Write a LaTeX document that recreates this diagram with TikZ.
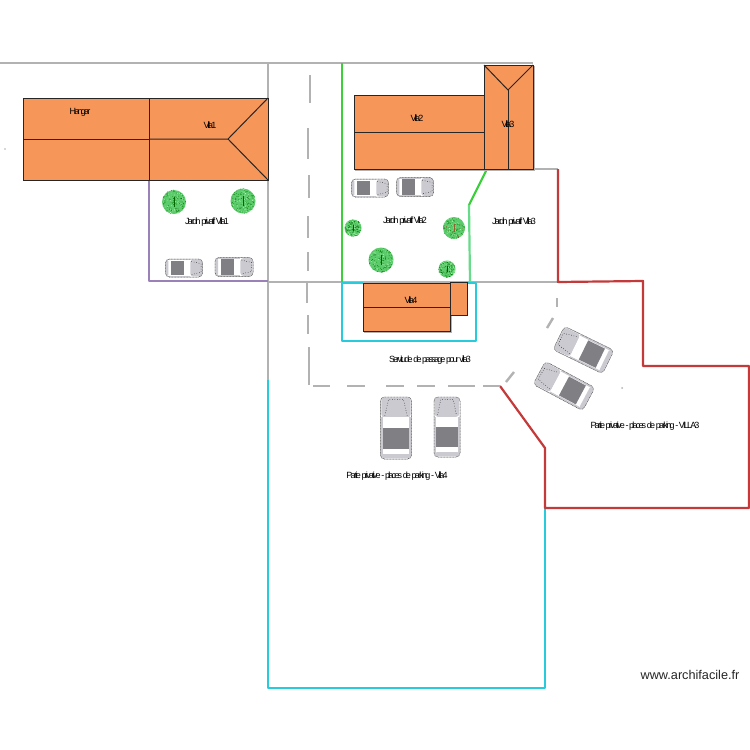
\documentclass[tikz,border=0pt]{standalone}
\usepackage{fontspec}
\setmainfont{Liberation Sans}
\newfontfamily\labfont[LetterSpace=-20]{Liberation Sans}
\definecolor{roof}{HTML}{F79659}
\definecolor{wallgray}{HTML}{B2B2B2}
\definecolor{gardenpurple}{HTML}{9A82B8}
\definecolor{gardengreen}{HTML}{3BCF3B}
\definecolor{softgreen}{HTML}{66DB8A}
\definecolor{parkcyan}{HTML}{28CBDC}
\definecolor{parkred}{HTML}{C43A3A}
\definecolor{carlight}{HTML}{CACAD0}
\definecolor{cardark}{HTML}{808084}
\definecolor{treegreen}{HTML}{5CCB6C}
\tikzset{
  wall/.style={draw=wallgray,line width=2.4pt},
  zone/.style={line width=2.2pt,line join=round},
  bldg/.style={fill=roof,draw=black!85,line width=1pt},
  ridge/.style={draw=black!85,line width=1pt},
  lab/.style={font=\labfont\fontsize{9}{11}\selectfont,inner sep=0pt,text=black},
  dashline/.style={draw=wallgray,line width=2.4pt}
}
% x, y, rotation, width, length
\newcommand{\carpic}[5]{%
  \begin{scope}[shift={(#1,#2)},rotate=#3,xscale=#4,yscale=#5]
    \draw[fill=white,draw=black!40,line width=.5pt,rounded corners=4pt] (-.5,-.5) rectangle (.5,.5);
    \fill[carlight,rounded corners=3pt] (-.47,-.49) -- (.47,-.49) -- (.47,-.17) -- (-.47,-.17) -- cycle;
    \fill[carlight] (-.49,-.17) rectangle (-.43,.46);
    \fill[carlight] (.43,-.17) rectangle (.49,.46);
    \fill[white] (-.43,-.17) -- (.43,-.17) -- (.43,.0) -- (-.43,.0) -- cycle;
    \fill[cardark] (-.41,.0) rectangle (.41,.34);
    \fill[carlight,rounded corners=1.5pt] (-.46,.42) rectangle (.46,.49);
    \draw[black,line width=.5pt,dotted] (-.36,-.2) -- (-.24,-.46) -- (.24,-.46) -- (.36,-.2);
    \draw[black!75,line width=.5pt,densely dotted,rounded corners=4pt] (-.5,-.5) rectangle (.5,.5);
  \end{scope}}
% x, y, radius, speck colour
\newcommand{\treepic}[4]{%
  \begin{scope}[shift={(#1,#2)}]
    \fill[treegreen] (0,0) circle[radius=#3];
    \foreach \i in {1,...,70}{%
      \pgfmathsetmacro\aa{360*rnd}\pgfmathsetmacro\bb{#3*sqrt(rnd)}%
      \fill[green!50!black] (\aa:\bb) circle[radius=.4];}
    \foreach \i in {1,...,50}{%
      \pgfmathsetmacro\aa{360*rnd}\pgfmathsetmacro\bb{#3*sqrt(rnd)}%
      \fill[green!25!white] (\aa:\bb) circle[radius=.4];}
    \foreach \i in {1,...,22}{%
      \pgfmathsetmacro\aa{360*rnd}\pgfmathsetmacro\bb{#3*sqrt(rnd)}%
      \fill[#4] (\aa:\bb) circle[radius=.4];}
    \draw[#4,line width=.4pt] (0,-#3*.4) -- (0,#3*.4);
  \end{scope}}
\begin{document}
\begin{tikzpicture}[x=1pt,y=-1pt]
\pgfmathsetseed{4242}
\useasboundingbox[fill=white] (0,0) rectangle (750,750);

% boundary walls
\draw[wall] (0,63) -- (533,63);
\draw[wall] (268,63) -- (268,380);
\draw[wall] (268,282) -- (558,282);
\draw[wall] (533,169) -- (558,169);

% zones
\draw[zone,draw=gardenpurple] (149,180) -- (149,281) -- (268,281);
\draw[zone,draw=gardengreen] (342,63) -- (342,282);
\draw[zone,draw=gardengreen] (487,169) -- (469,205);
\draw[zone,draw=softgreen] (469,205) -- (470,282);
\draw[zone,draw=parkcyan] (363,283) -- (342,283) -- (342,341) -- (476,341) -- (476,283) -- (468,283);
\draw[zone,draw=parkcyan] (268,380) -- (268,688) -- (545,688) -- (545,508);
\draw[zone,draw=parkred] (558,169) -- (558,282) -- (643,281) -- (643,366) -- (749,366) -- (749,508) -- (545,508) -- (545,448) -- (500,386);

% right of way
\foreach \ya/\yb/\xx in {75/103/310,128/159/308,175/198/309,216/238/308,252/271/308,283/303/307,315/334/308,347/385/309}
  \draw[dashline] (\xx,\ya) -- (\xx,\yb);
\foreach \xa/\xb in {313/330,347/365,386/404,417/435,448/475,483/500}
  \draw[dashline] (\xa,386) -- (\xb,386);
\draw[dashline] (506,382) -- (514,372);
\draw[dashline] (547,328) -- (553,318);
\draw[dashline] (557,298) -- (557,307);
\fill[wallgray] (622,388) circle[radius=1];
\fill[wallgray] (5,149) circle[radius=.8];

% shadows
\fill[black!30] (24,99) rectangle (269,181);
\fill[black!30] (355,96) rectangle (485,170.5);
\fill[black!30] (485,66) rectangle (534.5,170.5);
\fill[black!30] (364,284) rectangle (451.5,332.5);

% buildings
\draw[bldg] (23,98) rectangle (149,180);
\draw[ridge] (23,139) -- (149,139);
\draw[bldg] (149,98) rectangle (268,180);
\draw[ridge] (149,139) -- (228,139) -- (268,98);
\draw[ridge] (228,139) -- (268,180);
\draw[bldg] (354,95) rectangle (484,169);
\draw[ridge] (354,132) -- (484,132);
\draw[bldg] (484,65) rectangle (533,169);
\draw[ridge] (484,65) -- (508,90) -- (533,65);
\draw[ridge] (508,90) -- (508,169);
\draw[bldg] (450,282) rectangle (467,315);
\draw[bldg] (363,283) rectangle (450,331);
\draw[ridge] (363,307) -- (450,307);

% trees
\treepic{174}{202}{12}{green!40!black}
\treepic{243}{201}{12.5}{green!40!black}
\treepic{353}{228}{8.5}{green!35!black}
\treepic{454}{228}{11}{brown!75!black}
\treepic{381}{260}{12.5}{green!40!black}
\treepic{447}{269}{8.5}{green!35!black}

% cars
\carpic{184}{268}{-90}{18}{37}
\carpic{234}{267}{-90}{19}{38}
\carpic{370}{188}{-90}{18}{37}
\carpic{415}{187}{-90}{19}{37}
\carpic{396}{428}{0}{31}{62}
\carpic{447}{427}{0}{26}{60}
\carpic{583.5}{350}{64}{26}{55}
\carpic{564}{386}{62}{26}{56}

% labels
\node[lab] (hangar) at (80,112) {Hangar};
\node[lab] (villa1) at (210,125) {Villa1};
\node[lab] (villa2) at (417,118) {Villa2};
\node[lab] (villa3) at (508,124) {Villa3};
\node[lab] (villa4) at (411,300) {Villa4};
\node[lab] (jardin1) at (207,222) {Jardin privatif Villa1};
\node[lab] (jardin2) at (405,221) {Jardin privatif Villa2};
\node[lab] (jardin3) at (514,222) {Jardin privatif Villa3};
\node[lab] (servitude) at (430,360) {Servitude de passage pour villa3};
\node[lab] (park4) at (397,476) {Partie privative - places de parking - Villa4};
\node[lab] (park3) at (645,426) {Partie privative - places de parking - VILLA3};
\node[font=\fontsize{12.7}{15}\selectfont,inner sep=0pt,text=black!85] (brand) at (690,675) {www.archifacile.fr};
\end{tikzpicture}
\end{document}
